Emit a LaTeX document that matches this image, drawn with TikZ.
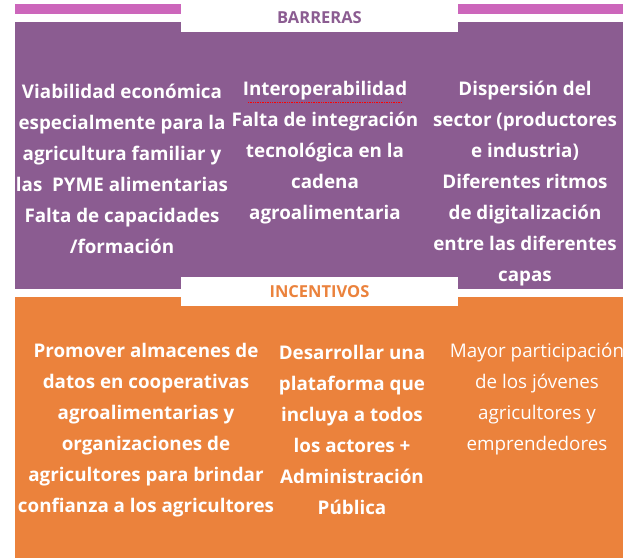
\documentclass[tikz,border=0pt]{standalone}
\usepackage{fontspec}
\setmainfont{Open Sans}
\usetikzlibrary{positioning}

\definecolor{barpurple}{RGB}{139,92,145}
\definecolor{barpink}{RGB}{204,102,187}
\definecolor{incorange}{RGB}{235,130,60}

\begin{document}
\begin{tikzpicture}[x=1pt, y=-1pt]
  \tikzstyle{cell} = [text=white, align=center, inner sep=0pt, font=\bfseries\fontsize{18.8}{31}\selectfont]
  \tikzstyle{cellthin} = [cell, font=\mdseries\fontsize{18.8}{31}\selectfont]
  \tikzstyle{tab} = [inner sep=0pt, font=\bfseries\fontsize{16.5}{16.5}\selectfont]
  \useasboundingbox (0,0) rectangle (623,559);
  % bands
  \fill[barpink] (15,4) rectangle (181,14);
  \fill[barpink] (458,4) rectangle (623,14);
  \fill[barpurple] (15,22) rectangle (623,289);
  \fill[incorange] (15,297) rectangle (623,558);
  \fill[white] (181,0) rectangle (458,32);
  \fill[white] (181,277) rectangle (458,306);
  \node[tab, text=barpurple] (barreras) at (319.5,18) {BARRERAS};
  \node[tab, text=incorange] (incentivos) at (319.5,291.5) {INCENTIVOS};

  % barreras
  \node[cell] (viab) at (122,168.5) {Viabilidad económica\\especialmente para la\\agricultura familiar y\\las\ \ PYME alimentarias\\Falta de capacidades\\/formación};
  \node[cell] (interop) at (325,153) {Interoperabilidad\\Falta de integración\\tecnológica en la\\cadena\\agroalimentaria};
  \node[cell] (disp) at (525,184) {Dispersión del\\sector (productores\\e industria)\\Diferentes ritmos\\de digitalización\\entre las diferentes\\capas};
  \draw[red, densely dotted, line width=0.7pt] (248,102) -- (402,102);

  % incentivos
  \node[cell] (almac) at (146,430) {Promover almacenes de\\datos en cooperativas\\agroalimentarias y\\organizaciones de\\agricultores para brindar\\confianza a los agricultores};
  \node[cell] (plataf) at (352,430) {Desarrollar una\\plataforma que\\incluya a todos\\los actores +\\Administración\\Pública};
  \node[cellthin] (jovenes) at (537,399.5) {Mayor participación\\de los jóvenes\\agricultores y\\emprendedores};
\end{tikzpicture}
\end{document}
